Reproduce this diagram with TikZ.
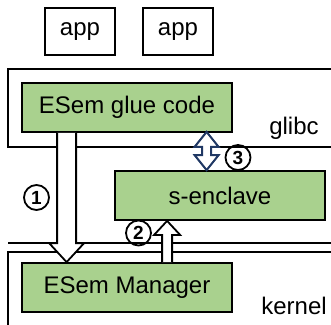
\documentclass[tikz,border=0pt]{standalone}
\usepackage{fontspec}
\setmainfont{Liberation Sans}
\begin{document}
\begin{tikzpicture}[x=1pt,y=-1pt,
  every node/.style={font=\fontsize{24}{27}\selectfont},
  appbox/.style={draw=black,line width=1.8pt,fill=white,inner sep=0pt},
  greenbox/.style={draw=black,line width=1.8pt,fill=leafgreen,inner sep=0pt},
  region/.style={draw=black,line width=1.8pt},
  fatarrow/.style={draw=black,fill=white,line width=1.8pt,line join=miter},
  duplexarrow/.style={draw=navyblue,fill=white,line width=2pt,line join=miter},
  stepnum/.style={circle,draw=black,line width=1.8pt,minimum size=25pt,inner sep=0pt,
    font=\fontsize{19}{19}\selectfont\bfseries}
]
\definecolor{leafgreen}{HTML}{A9D18E}
\definecolor{navyblue}{HTML}{203864}
\useasboundingbox (0,0) rectangle (331,324);
\clip (0,0) rectangle (331,324);

% applications
\node[appbox,minimum width=70pt,minimum height=47pt] (app1) at (80,31.5) {app};
\node[appbox,minimum width=70pt,minimum height=47pt] (app2) at (178,31.5) {app};

% glibc region, open to the right
\draw[region] (345,69) -- (8,69) -- (8,147) -- (345,147);
\node (glibc) at (294,128) {glibc};

% boundary above the kernel
\draw[region] (8,243) -- (345,243);

% kernel region, open to the right and below
\draw[region] (345,252) -- (8,252) -- (8,340);
\node (kernel) at (294,306) {kernel};

% components
\node[greenbox,minimum width=210pt,minimum height=49pt] (glue) at (127,107.5) {ESem glue code};
\node[greenbox,minimum width=210pt,minimum height=49pt] (senc) at (220,195.5) {s-enclave};
\node[greenbox,minimum width=210pt,minimum height=49pt] (mgr) at (127,287.5) {ESem Manager};

% step 1: glue code down to the manager
\path (glue.south west) ++(45.5,0) coordinate (a1top);
\path (mgr.north west) ++(45.5,0) coordinate (a1tip);
\draw[fatarrow] ([xshift=-9.5pt]a1top) -- ([xshift=-9.5pt,yshift=19pt]a1tip)
  -- ([xshift=-17.5pt,yshift=19pt]a1tip) -- (a1tip)
  -- ([xshift=17.5pt,yshift=19pt]a1tip) -- ([xshift=9.5pt,yshift=19pt]a1tip)
  -- ([xshift=9.5pt]a1top);

% step 2: manager up to the s-enclave
\path (mgr.north west) ++(146,0) coordinate (a2foot);
\path (senc.south west) ++(53,0) coordinate (a2tip);
\draw[fatarrow] ([xshift=-5pt]a2foot) -- ([xshift=-5pt,yshift=-14pt]a2tip)
  -- ([xshift=-13pt,yshift=-14pt]a2tip) -- (a2tip)
  -- ([xshift=13pt,yshift=-14pt]a2tip) -- ([xshift=5pt,yshift=-14pt]a2tip)
  -- ([xshift=5pt]a2foot);

% step 3: glue code <-> s-enclave
\path (glue.south west) ++(185.5,-1) coordinate (a3top);
\path (senc.north west) ++(92.5,0) coordinate (a3bot);
\draw[duplexarrow] (a3top) -- ([xshift=12pt,yshift=-15pt]a3top)
  -- ([xshift=4.5pt,yshift=-15pt]a3top) -- ([xshift=4.5pt,yshift=15pt]a3bot)
  -- ([xshift=12pt,yshift=15pt]a3bot) -- (a3bot)
  -- ([xshift=-12pt,yshift=15pt]a3bot) -- ([xshift=-4.5pt,yshift=15pt]a3bot)
  -- ([xshift=-4.5pt,yshift=-15pt]a3top) -- ([xshift=-12pt,yshift=-15pt]a3top) -- cycle;

% step labels
\node[stepnum] (n1) at (36.5,197.5) {1};
\node[stepnum] (n2) at (138.5,233) {2};
\node[stepnum] (n3) at (238,157.5) {3};
\end{tikzpicture}
\end{document}
